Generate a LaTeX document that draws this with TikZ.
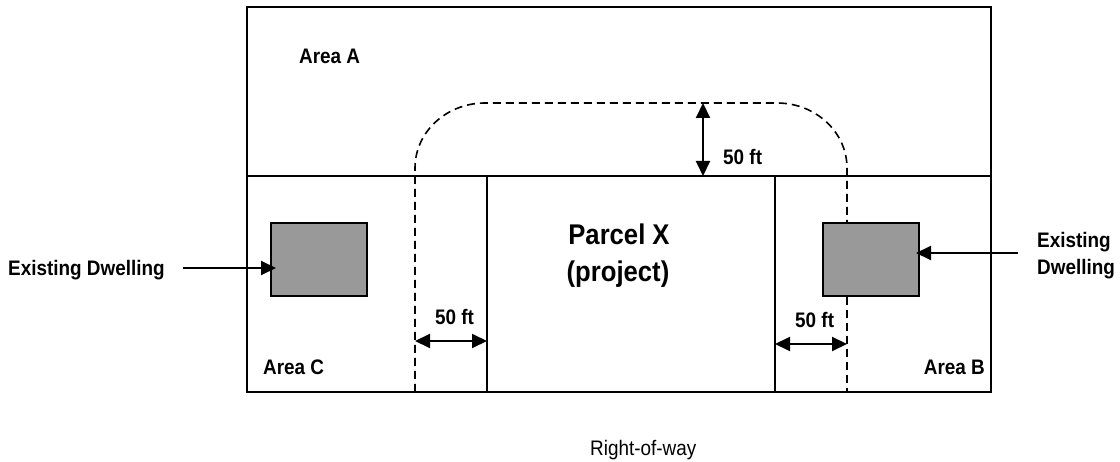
\documentclass[tikz,border=0pt]{standalone}
\usepackage{fontspec}
\setmainfont{Liberation Sans}[FakeStretch=0.9]
\usetikzlibrary{arrows.meta}
\definecolor{dwellgray}{RGB}{153,153,153}
\begin{document}
\begin{tikzpicture}[x=1pt,y=-1pt,
  frame/.style={line width=2pt},
  dashln/.style={line width=1.6pt, dash pattern=on 8pt off 5pt},
  tipT/.tip={Triangle[length=15pt,width=14pt]},
  arr/.style={line width=2pt, -tipT},
  dimarr/.style={line width=2pt, tipT-tipT},
  dwell/.style={draw, line width=2pt, fill=dwellgray, minimum width=96pt, minimum height=73pt, inner sep=0pt},
  lbl/.style={font=\bfseries\fontsize{21}{25}\selectfont, inner sep=0pt},
  big/.style={font=\bfseries\fontsize{28.5}{37}\selectfont, inner sep=0pt},
  plain/.style={font=\fontsize{21}{25}\selectfont, inner sep=0pt},
]
\useasboundingbox (0,0) rectangle (1120,462);
\fill[white] (0,0) rectangle (1120,462);

% plan outline
\draw[frame] (247,7) rectangle (991,392);
\draw[frame] (247,176) -- (991,176);
\draw[frame] (487,176) -- (487,392);
\draw[frame] (775,176) -- (775,392);

% dwellings
\node[dwell] (dwL) at (319,259.5) {};
\node[dwell] (dwR) at (871,259.5) {};

% setback dashed line
\coordinate (lx) at (415,0);
\coordinate (rx) at (847,0);
\draw[dashln] (415,392) -- (415,168)
  arc[start angle=180, end angle=270, x radius=70, y radius=65]
  -- (777,103)
  arc[start angle=270, end angle=360, x radius=70, y radius=65]
  -- (dwR.north -| rx);
\draw[dashln] (dwR.south -| rx) -- (847,392);

% labels
\node[lbl, anchor=base west] (areaA) at (299,64) {Area A};
\node[lbl, anchor=base west] (areaC) at (263,375) {Area C};
\node[lbl, anchor=base east] (areaB) at (985,375) {Area B};
\node[big, anchor=base] (parcel1) at (619,245) {Parcel X};
\node[big, anchor=base] (parcel2) at (618,282) {(project)};
\node[lbl, anchor=base west] (ftTop) at (723,165) {50 ft};
\node[lbl, anchor=base west] (ftL) at (435,325) {50 ft};
\node[lbl, anchor=base west] (ftR) at (795,328) {50 ft};
\node[lbl, anchor=base west] (exL) at (8,276) {Existing Dwelling};
\node[lbl, anchor=base west] (exR1) at (1037,248) {Existing};
\node[lbl, anchor=base west] (exR2) at (1037,275) {Dwelling};
\node[plain, anchor=base west] (row) at (590,455) {Right-of-way};

% dimension arrows
\coordinate (topA) at (703,103);
\coordinate (topB) at (703,176);
\draw[dimarr] (topA) -- (topB);
\coordinate (dLa) at (415,341);
\coordinate (dLb) at (487,341);
\draw[dimarr] (dLa) -- (dLb);
\coordinate (dRa) at (775,344);
\coordinate (dRb) at (847,344);
\draw[dimarr] (dRa) -- (dRb);

% pointer arrows
\coordinate (pL) at (183,268);
\draw[arr] (pL) -- ([xshift=6pt]dwL.west |- pL);
\coordinate (pR) at (1018,253);
\draw[arr] (pR) -- ([xshift=-4pt]dwR.east |- pR);
\end{tikzpicture}
\end{document}
